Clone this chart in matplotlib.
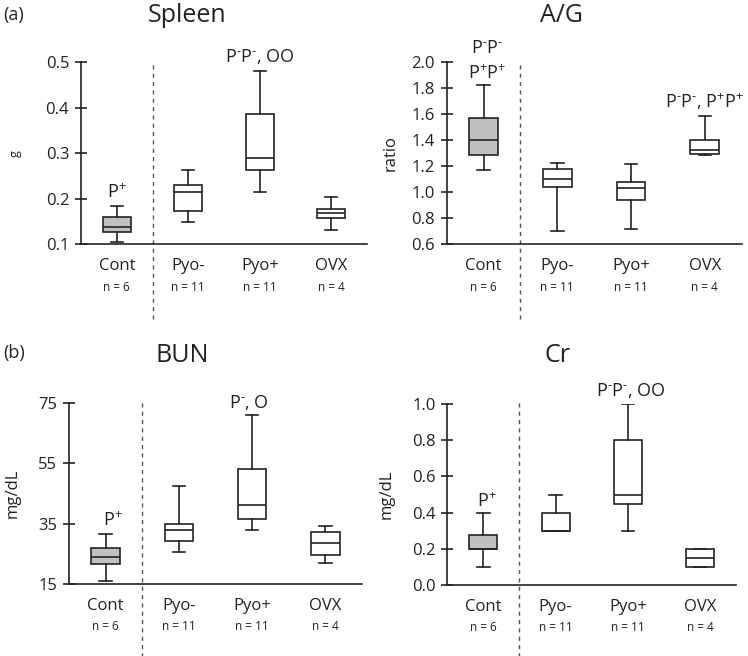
import matplotlib
matplotlib.use("Agg")
import matplotlib.pyplot as plt
import matplotlib.transforms as mtransforms

plt.rcParams['font.family'] = ['Open Sans', 'DejaVu Sans']
plt.rcParams['mathtext.fontset'] = 'custom'
plt.rcParams['mathtext.rm'] = 'Open Sans'
plt.rcParams['mathtext.it'] = 'Open Sans'
plt.rcParams['mathtext.sf'] = 'Open Sans'

groups = ["Cont", "Pyo-", "Pyo+", "OVX"]
n_labels = ["n = 6", "n = 11", "n = 11", "n = 4"]

# whisker low, Q1, median, Q3, whisker high
spleen = [[0.105, 0.126, 0.138, 0.160, 0.185],
          [0.148, 0.173, 0.214, 0.230, 0.263],
          [0.214, 0.263, 0.290, 0.386, 0.482],
          [0.131, 0.157, 0.168, 0.177, 0.205]]
ag = [[1.169, 1.290, 1.405, 1.574, 1.823],
      [0.703, 1.038, 1.105, 1.182, 1.226],
      [0.715, 0.944, 1.031, 1.077, 1.215],
      [1.287, 1.295, 1.323, 1.405, 1.585]]
bun = [[16.0, 21.8, 23.9, 27.1, 31.7],
       [25.8, 29.2, 32.8, 35.0, 47.5],
       [33.1, 36.5, 41.1, 53.1, 70.8],
       [21.9, 24.7, 28.6, 32.4, 34.4]]
cr = [[0.10, 0.20, 0.20, 0.275, 0.40],
      [0.30, 0.30, 0.30, 0.40, 0.50],
      [0.30, 0.45, 0.50, 0.80, 1.00],
      [0.10, 0.10, 0.15, 0.20, 0.20]]

PP = r"P$^{\text{+}}$"
PM = r"P$^{\text{-}}$"

panels = [
    dict(data=spleen, title="Spleen", ylabel="g", ylim=(0.1, 0.5), yticks=[0.1, 0.2, 0.3, 0.4, 0.5],
         fmt="{:.1f}", rect=[0.1083, 0.6276, 0.3824, 0.2774], title_xy=(187, 15), ylab_x=15, ylab_fs=9,
         notes=[(0, 0.214, PP), (2, 0.512, PM + PM + ", OO")]),
    dict(data=ag, title="A/G", ylabel="ratio", ylim=(0.6, 2.0), yticks=[0.6, 0.8, 1.0, 1.2, 1.4, 1.6, 1.8, 2.0],
         fmt="{:.1f}", rect=[0.5972, 0.6276, 0.3944, 0.2774], title_xy=(562, 15), ylab_x=391, ylab_fs=12,
         notes=[(0.05, 2.108, PM + PM), (0.05, 1.91, PP + PP),
                (3.0, 1.697, PM + PM + ", " + PP + PP)]),
    dict(data=bun, title="BUN", ylabel="mg/dL", ylim=(15, 75), yticks=[15, 35, 55, 75],
         fmt="{:.0f}", rect=[0.0922, 0.1093, 0.3917, 0.2768], title_xy=(182, 356), ylab_x=13, ylab_fs=12,
         notes=[(0.1, 36.0, PP), (1.95, 75.2, PM + ", O")]),
    dict(data=cr, title="Cr", ylabel="mg/dL", ylim=(0.0, 1.0), yticks=[0.0, 0.2, 0.4, 0.6, 0.8, 1.0],
         fmt="{:.1f}", rect=[0.598, 0.1078, 0.386, 0.2764], title_xy=(557, 356), ylab_x=387, ylab_fs=12,
         notes=[(0.05, 0.46, PP), (2.04, 1.077, PM + PM + ", OO")]),
]

W, H = 748, 656
fig = plt.figure(figsize=(W / 100, H / 100), dpi=100)
ink = "#222222"

for p in panels:
    ax = fig.add_axes(p["rect"])
    stats = []
    for g, (lo, q1, med, q3, hi) in zip(groups, p["data"]):
        stats.append(dict(label=g, whislo=lo, q1=q1, med=med, q3=q3, whishi=hi, fliers=[]))
    bp = ax.bxp(stats, positions=range(4), widths=0.39, capwidths=0.17, patch_artist=True,
                showfliers=False,
                boxprops=dict(facecolor="white", edgecolor=ink, linewidth=1.2),
                medianprops=dict(color=ink, linewidth=1.2),
                whiskerprops=dict(color=ink, linewidth=1.2),
                capprops=dict(color=ink, linewidth=1.2))
    bp["boxes"][0].set_facecolor("#c0c0c0")

    ax.set_xlim(-0.5, 3.5)
    ax.set_ylim(*p["ylim"])
    ax.set_yticks(p["yticks"])
    ax.set_yticklabels([p["fmt"].format(v) for v in p["yticks"]])
    ax.tick_params(axis="y", direction="inout", length=9, width=1.2, color=ink, labelsize=12,
                   labelcolor=ink, pad=4)
    ax.tick_params(axis="x", length=0, labelsize=12, labelcolor=ink, pad=10)
    ax.set_xticks(range(4))
    ax.set_xticklabels(groups)
    for s in ["top", "right"]:
        ax.spines[s].set_visible(False)
    for s in ["left", "bottom"]:
        ax.spines[s].set_color(ink)
        ax.spines[s].set_linewidth(1.2)

    ax.axvline(0.5, ymin=-0.41, ymax=1.01, clip_on=False, ls=(0, (3, 3)), color="#555555", lw=1.0)

    trans = mtransforms.blended_transform_factory(ax.transData, ax.transAxes)
    for i, lab in enumerate(n_labels):
        ax.text(i, -0.235, lab, transform=trans, ha="center", va="center", fontsize=8.5, color=ink)

    for x, y, s in p["notes"]:
        ax.text(x, y, s, ha="center", va="center", fontsize=13, color=ink, clip_on=False)

    tx, ty = p["title_xy"]
    fig.text(tx / W, 1 - ty / H, p["title"], ha="center", va="center", fontsize=18, color=ink)
    fig.text(p["ylab_x"] / W, p["rect"][1] + p["rect"][3] / 2, p["ylabel"], rotation=90,
             ha="center", va="center", fontsize=p["ylab_fs"], color=ink)

fig.text(14 / W, 1 - 15 / H, "(a)", ha="center", va="center", fontsize=13, color=ink)
fig.text(14 / W, 1 - 353 / H, "(b)", ha="center", va="center", fontsize=13, color=ink)

fig.savefig("out.png", dpi=100, facecolor="white")
